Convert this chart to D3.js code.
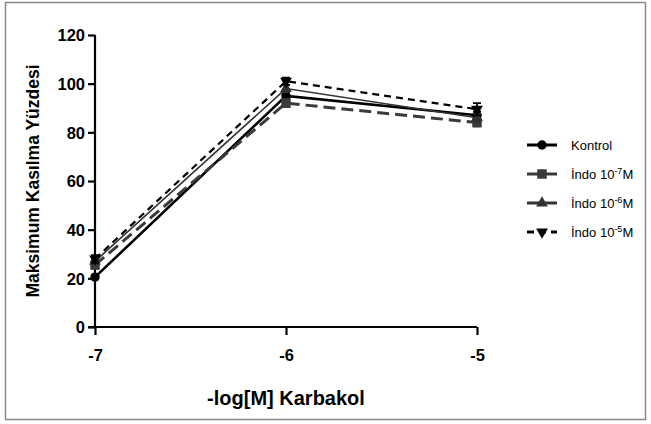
<!DOCTYPE html>
<html>
<head>
<meta charset="utf-8">
<script src="https://cdn.jsdelivr.net/npm/d3@7"></script>
<style>
  html, body { margin: 0; padding: 0; background: #fff; }
  svg { display: block; font-family: "Liberation Sans", Arial, sans-serif; }
</style>
</head>
<body>
<svg id="chart" width="651" height="424"></svg>
<script>
// Carbachol concentration (-log M) and contraction responses (% of maximum)
const doses = [-7, -6, -5];
const xTicks = [-7, -6, -5];
const yTicks = [0, 20, 40, 60, 80, 100, 120];

const kontrol = [20.5, 95, 87];
const indo7 = [25.5, 92, 84];
const indo6 = [27, 98, 86];
const indo5 = [28, 101, 89.5];

const kontrolErr = [0.8, 1.5, 1.5];
const indo7Err = [1.5, 1.5, 1.5];
const indo6Err = [1.2, 1.5, 1.5];
const indo5Err = [1.5, 1.5, 2.5];

const seriesNames = ["Kontrol", "İndo 10", "İndo 10", "İndo 10"];
const seriesExps = [null, "-7", "-6", "-5"];

const series = [
  { name: seriesNames[0], exp: seriesExps[0], values: kontrol, err: kontrolErr, color: "#000", width: 2.6, dash: null, symbol: d3.symbolCircle, size: 70, legendDash: null },
  { name: seriesNames[1], exp: seriesExps[1], values: indo7, err: indo7Err, color: "#3a3a3a", width: 3, dash: "12,6", symbol: d3.symbolSquare, size: 90, legendDash: null },
  { name: seriesNames[2], exp: seriesExps[2], values: indo6, err: indo6Err, color: "#333", width: 1.6, dash: null, symbol: d3.symbolTriangle, size: 60, legendDash: null },
  { name: seriesNames[3], exp: seriesExps[3], values: indo5, err: indo5Err, color: "#000", width: 2.2, dash: "7,5", symbol: d3.symbolTriangle, size: 60, legendDash: "7,5", down: true }
];

const svg = d3.select("#chart");

// outer frame
svg.append("rect")
  .attr("x", 5.5).attr("y", 2.5)
  .attr("width", 640).attr("height", 417)
  .attr("fill", "none").attr("stroke", "#8a8a8a").attr("stroke-width", 1.5);

const x = d3.scaleLinear().domain([-7, -5]).range([95, 477]);
const y = d3.scaleLinear().domain([0, 120]).range([327, 35]);

// axes
const yAxis = svg.append("g")
  .attr("transform", `translate(${x(-7)},0)`)
  .call(d3.axisLeft(y).tickValues(yTicks).tickSize(7).tickPadding(3));
const xAxis = svg.append("g")
  .attr("transform", `translate(0,${y(0)})`)
  .call(d3.axisBottom(x).tickValues(xTicks).tickSize(8).tickPadding(14).tickFormat(d3.format("d")));

[yAxis, xAxis].forEach(g => {
  g.select(".domain").attr("stroke", "#000").attr("stroke-width", 2.2);
  g.selectAll(".tick line").attr("stroke", "#000").attr("stroke-width", 2.2);
  g.selectAll(".tick text")
    .attr("fill", "#000")
    .attr("font-family", "Liberation Sans, Arial, sans-serif")
    .attr("font-weight", "bold")
    .attr("font-size", 16.5);
});
yAxis.select(".domain").attr("d", `M0,${y(120)}V${y(0)}`);
xAxis.select(".domain").attr("d", `M${x(-7) - 7},0H${x(-5)}`);
xAxis.selectAll(".tick text").text(d => d3.format("d")(d).replace("−", "-"));
yAxis.selectAll(".tick text").attr("dy", "0.36em");

// axis titles
svg.append("text")
  .attr("x", x(-6)).attr("y", 405)
  .attr("text-anchor", "middle")
  .attr("font-weight", "bold").attr("font-size", 20)
  .text("-log[M] Karbakol");

svg.append("text")
  .attr("transform", `translate(39,${181}) rotate(-90)`)
  .attr("text-anchor", "middle")
  .attr("font-weight", "bold").attr("font-size", 17.5)
  .text("Maksimum Kasılma Yüzdesi");

// lines
const line = d3.line().x((d, i) => x(doses[i])).y(d => y(d));

series.forEach(s => {
  svg.append("path")
    .datum(s.values)
    .attr("d", line)
    .attr("fill", "none")
    .attr("stroke", s.color)
    .attr("stroke-width", s.width)
    .attr("stroke-dasharray", s.dash);
});

// error bars and markers
series.forEach(s => {
  const g = svg.append("g");
  s.values.forEach((v, i) => {
    const cx = x(doses[i]);
    g.append("path")
      .attr("d", `M${cx - 4},${y(v + s.err[i])}H${cx + 4}M${cx},${y(v + s.err[i])}V${y(v - s.err[i])}M${cx - 4},${y(v - s.err[i])}H${cx + 4}`)
      .attr("stroke", s.color).attr("stroke-width", 1.8).attr("fill", "none");
    g.append("path")
      .attr("d", d3.symbol().type(s.symbol).size(s.size)())
      .attr("transform", `translate(${cx},${y(v)})${s.down ? " rotate(180)" : ""}`)
      .attr("fill", s.color);
  });
});

// legend
const legend = svg.append("g");
const legendY = [145, 174, 203, 232];
series.forEach((s, i) => {
  const ly = legendY[i];
  legend.append("line")
    .attr("x1", 527).attr("x2", 557).attr("y1", ly).attr("y2", ly)
    .attr("stroke", s.color).attr("stroke-width", 3)
    .attr("stroke-dasharray", s.legendDash);
  legend.append("path")
    .attr("d", d3.symbol().type(s.symbol).size(s.size)())
    .attr("transform", `translate(542,${ly})${s.down ? " rotate(180)" : ""}`)
    .attr("fill", s.color);
  const t = legend.append("text")
    .attr("x", 571).attr("y", ly + 4.5)
    .attr("font-family", "Liberation Sans, Arial, sans-serif")
    .attr("font-size", 13).attr("fill", "#000");
  t.append("tspan").text(s.name);
  if (s.exp) {
    t.append("tspan").attr("font-size", 9).attr("dy", -5).text(s.exp);
    t.append("tspan").attr("dy", 5).text("M");
  }
});
</script>
</body>
</html>
